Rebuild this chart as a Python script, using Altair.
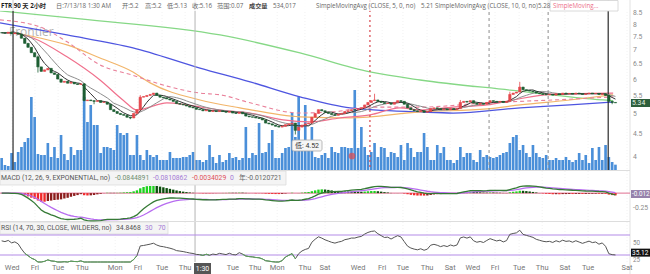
import altair as alt
import numpy as np
import pandas as pd

# ---------------- data ----------------
closes = [
    7.72, 7.70, 7.74, 7.68, 7.71, 7.66, 7.50, 7.30, 7.15, 6.95,
    6.80, 6.45, 6.30, 6.35, 6.40, 6.25, 6.20, 6.05, 5.95, 5.98,
    5.92, 5.95, 5.90, 5.88, 5.90, 5.40, 5.42, 5.40, 5.38, 5.40,
    5.35, 5.36, 5.30, 5.15, 5.10, 5.05, 5.02, 5.00, 4.95, 4.93,
    5.05, 5.15, 5.50, 5.52, 5.55, 5.58, 5.62, 5.55, 5.50, 5.48,
    5.45, 5.42, 5.38, 5.32, 5.30, 5.28, 5.25, 5.22, 5.20, 5.16,
    5.15, 5.12, 5.14, 5.10, 5.12, 5.10, 5.12, 5.10, 5.08, 5.10,
    5.06, 5.05, 5.08, 5.04, 4.98, 4.96, 4.95, 4.93, 4.92, 4.88,
    4.80, 4.78, 4.75, 4.72, 4.70, 4.72, 4.76, 4.78, 4.80, 4.62,
    4.70, 4.75, 4.78, 4.80, 4.95, 5.05, 5.15, 5.12, 5.08, 5.05,
    5.02, 5.00, 5.03, 5.05, 5.10, 5.12, 5.15, 5.15, 5.18, 5.20,
    5.28, 5.35, 5.40, 5.42, 5.38, 5.35, 5.32, 5.33, 5.30, 5.35,
    5.40, 5.38, 5.30, 5.20, 5.15, 5.12, 5.10, 5.12, 5.08, 5.10,
    5.18, 5.20, 5.18, 5.15, 5.17, 5.15, 5.18, 5.16, 5.18, 5.35,
    5.38, 5.36, 5.40, 5.33, 5.30, 5.32, 5.30, 5.35, 5.40, 5.38,
    5.36, 5.38, 5.35, 5.38, 5.58, 5.62, 5.65, 5.80, 5.72, 5.70,
    5.68, 5.66, 5.62, 5.60, 5.58, 5.57, 5.58, 5.56, 5.60, 5.58,
    5.62, 5.60, 5.61, 5.59, 5.62, 5.60, 5.58, 5.60, 5.62, 5.60,
    5.61, 5.58, 5.60, 5.55, 5.38, 5.35, 5.34,
]
volumes_k = [
    1200, 500, 400, 1700, 800, 1800, 2300, 2800, 3200, 7300,
    5300, 1600, 1500, 1500, 2700, 1300, 2300, 1200, 3500, 1600,
    1000, 2300, 1500, 2000, 2000, 7300, 4800, 6500, 4500, 4500,
    1700, 2300, 2300, 2200, 2000, 4500, 3700, 3500, 3700, 1500,
    1500, 3500, 1500, 1000, 2000, 1500, 1300, 1500, 1000, 1000,
    1000, 1800, 1200, 1200, 1200, 1300, 1300, 1500, 1800, 1000,
    1000, 800, 1000, 2500, 1300, 700, 1500, 800, 1000, 1700,
    1200, 1300, 1000, 1200, 4300, 1200, 1700, 1500, 4700, 1700,
    1800, 2700, 4000, 1200, 1200, 1700, 2200, 2300, 5700, 3300,
    7300, 2700, 6500, 2000, 4300, 1300, 1200, 1500, 1700, 1200,
    2300, 1800, 1700, 2300, 2300, 2200, 2200, 8000, 2200, 4300,
    2300, 1500, 1800, 2700, 1300, 2300, 2200, 1300, 1800, 1700,
    1300, 2500, 1000, 2700, 2200, 1300, 1800, 1800, 3700, 2300,
    1000, 1000, 2500, 1700, 2300, 1000, 1000, 700, 1000, 2300,
    1300, 1700, 1700, 1000, 800, 2000, 1300, 1500, 1300, 1200,
    1300, 1500, 1700, 1800, 2700, 3300, 3500, 2000, 2500, 1700,
    1300, 2500, 1700, 1300, 1200, 1500, 1000, 1000, 1200, 1000,
    1000, 1300, 1000, 800, 1000, 1700, 1000, 1500, 700, 2200,
    1000, 2300, 1000, 2500, 1300, 800, 534,
]
wick_high_idx = [11, 25, 42, 113, 139, 154, 157, 184]
wick_high_val = [6.85, 5.92, 5.56, 5.60, 5.42, 5.66, 5.96, 5.57]
wick_low_idx = [11, 28, 39, 89, 185]
wick_low_val = [6.26, 5.30, 4.90, 4.52, 5.30]

green_idx = [-0.5, 23.8, 66.2, 90.4, 111.6, 126.8, 154.1, 182.2, 185.3]
green_val = [8.66, 8.30, 7.63, 6.94, 6.28, 6.02, 5.71, 5.42, 5.40]
blue_idx = [-0.5, 19.8, 39.8, 60.1, 75.3, 90.4, 105.6, 126.8, 136.8, 157.1, 172.2, 185.3]
blue_val = [8.13, 7.63, 7.13, 6.41, 5.96, 5.51, 5.20, 5.09, 5.06, 5.20, 5.28, 5.36]
orange_idx = [4.1, 11.6, 19.8, 29.8, 39.8, 45.0, 60.1, 72.2, 90.4, 105.6, 126.8, 147.1, 157.1, 172.2, 185.3]
orange_val = [7.71, 7.51, 7.24, 6.76, 6.28, 5.93, 5.42, 5.20, 4.96, 4.93, 5.09, 5.17, 5.28, 5.42, 5.57]
dashed_idx = [-0.5, 11.6, 19.8, 29.8, 39.8, 50.1, 60.1, 66.2, 75.3, 90.4, 100.4, 111.6, 126.8, 147.1, 167.1, 185.3]
dashed_val = [8.26, 7.96, 7.36, 6.52, 6.17, 5.83, 5.62, 5.57, 5.34, 5.06, 5.09, 5.22, 5.22, 5.34, 5.42, 5.51]
pink_idx = [3.5, 9.5, 19.8, 29.8, 37.0, 41.0, 50.1, 56.2, 66.2, 75.3, 85.3, 93.5, 102.5, 111.6, 120.7, 126.8, 136.8, 147.1, 155.0, 167.1, 185.3]
pink_val = [7.71, 7.51, 6.80, 6.02, 5.40, 5.14, 5.34, 5.28, 5.14, 5.06, 4.88, 4.83, 4.93, 5.01, 5.20, 5.14, 5.22, 5.28, 5.42, 5.59, 5.62]

xlabel_idx = [3.2, 10.1, 17.1, 24.4, 34.4, 41.3, 48.6, 55.6, 70.1, 76.8, 83.5, 91.9, 98.0,
              108.0, 115.3, 121.6, 128.9, 135.9, 142.8, 149.5, 156.8, 163.8, 170.7, 177.7, 189.5]
xlabel_text = ["Wed", "Fri", "Tue", "Thu", "Mon", "Fri", "Tue", "Thu", "Tue", "Thu", "Mon", "Thu", "Sat",
               "Wed", "Fri", "Tue", "Thu", "Sat", "Wed", "Fri", "Tue", "Thu", "Sat", "Tue", "Sat"]
price_ticks = [8.5, 8, 7.5, 7, 6.5, 6, 5.5, 5, 4.5, 4]
price_tick_text = ["8.5", "8", "7.5", "7", "6.5", "6", "5.5", "5", "4.5", "4"]
cursor_idx = [58.6]
black_event_idx = [3.45, 183.8]
red_event_idx = [111.6]
gray_event_idx = [147.7, 165.6]
rsi_levels = [30, 70]
rsi_tick = [50, 25]
macd_tick = [-0.25]
last_price = 5.34
last_macd = -0.012
last_rsi = 35.12

# ---------------- derived tables ----------------
n = len(closes)
idx = np.arange(n)
opens = [closes[0]] + closes[:-1]
highs = [max(o, c) for o, c in zip(opens, closes)]
lows = [min(o, c) for o, c in zip(opens, closes)]
for i, v in zip(wick_high_idx, wick_high_val):
    highs[i] = max(highs[i], v)
for i, v in zip(wick_low_idx, wick_low_val):
    lows[i] = min(lows[i], v)

df = pd.DataFrame({"i": idx, "open": opens, "close": closes, "high": highs, "low": lows,
                   "vol": volumes_k})
df["l"] = df.i - 0.36
df["r"] = df.i + 0.36
df["vl"] = df.i - 0.4
df["vr"] = df.i + 0.4
df["zero"] = 0.0
df["col"] = np.where(df.close > df.open, "#e5484d", "#1d5e33")
s = df.close
df["sma5"] = s.rolling(5, min_periods=1).mean()
df["sma10"] = s.rolling(10, min_periods=1).mean()
ema12 = s.ewm(span=12, adjust=False).mean()
ema26 = s.ewm(span=26, adjust=False).mean()
df["macd"] = ema12 - ema26
df["sig"] = df.macd.ewm(span=9, adjust=False).mean()
df["diff"] = df.macd - df.sig
prev = df["diff"].shift(1).fillna(0)
df["hcol"] = np.where(df["diff"] >= 0,
                      np.where(df["diff"] >= prev, "#1fd11f", "#0d4f0d"),
                      np.where(df["diff"] <= prev, "#f02828", "#8c1c1c"))
# Wilder RSI(14)
ag, al = 0.035, 0.025
rsi = []
for d in s.diff().fillna(0):
    ag = (ag * 13 + max(d, 0)) / 14
    al = (al * 13 + max(-d, 0)) / 14
    rsi.append(100 - 100 / (1 + ag / al))
df["rsi"] = rsi
low_mask = (df.rsi < 30) | (df.rsi.shift(-1) < 30)
df["rsi_low"] = np.where(low_mask, df.rsi, np.nan)

# ---------------- scales ----------------
X = alt.Scale(domain=[-0.5, 189.8], range=[0, 628])
YP = alt.Scale(type="log", domain=[3.75, 9.17], range=[170, 0])
YV = alt.Scale(domain=[0, 17000], range=[170, 0])
YM = alt.Scale(domain=[-0.47, 0.12], range=[221, 186], clamp=True)
YR = alt.Scale(domain=[16, 82], range=[262, 229], clamp=True)

ONE = pd.DataFrame({"a": [0]})
FONT = "Roboto, Noto Sans CJK SC, sans-serif"
HFONT = "Open Sans, Noto Sans CJK SC, sans-serif"


def xq(f):
    return alt.X(f, type="quantitative", scale=X, axis=None)


def label(txt, x, y, color="#555", size=7.0, align="left", weight="normal", font=FONT):
    return alt.Chart(ONE).mark_text(text=txt, align=align, baseline="middle", fontSize=size,
                                    font=font, color=color, fontWeight=weight).encode(
        x=alt.value(x), y=alt.value(y))


def box(x1, x2, y1, y2, fill, stroke=None, opacity=1.0, radius=0):
    kw = dict(fill=fill, opacity=opacity, cornerRadius=radius)
    if stroke:
        kw.update(stroke=stroke, strokeWidth=0.8)
    return alt.Chart(ONE).mark_rect(**kw).encode(
        x=alt.value(x1), x2=alt.value(x2), y=alt.value(y1), y2=alt.value(y2))


def ma_line(ix, vals, color, width=1.2, dash=None):
    d = pd.DataFrame({"i": ix, "v": vals})
    kw = dict(color=color, strokeWidth=width, interpolate="monotone")
    if dash:
        kw["strokeDash"] = dash
    return alt.Chart(d).mark_line(**kw).encode(x=xq("i"), y=alt.Y("v:Q", scale=YP, axis=None))


def vlines(ix, color, y1, y2, width=1.0, dash=None):
    d = pd.DataFrame({"i": ix})
    kw = dict(color=color, strokeWidth=width)
    if dash:
        kw["strokeDash"] = dash
    return alt.Chart(d).mark_rule(**kw).encode(x=xq("i"), y=alt.value(y1), y2=alt.value(y2))


def value_tag(v, text, scale, fill, tcolor, size=6.5):
    d = pd.DataFrame({"v": [v], "t": [text]})
    r = alt.Chart(d).mark_rect(fill=fill, yOffset=-3.8, y2Offset=4.2).encode(
        x=alt.value(631), x2=alt.value(650), y=alt.Y("v:Q", scale=scale, axis=None), y2="v:Q")
    t = alt.Chart(d).mark_text(align="left", baseline="middle", fontSize=size, font=FONT,
                               color=tcolor, dy=0.3).encode(
        x=alt.value(632), y=alt.Y("v:Q", scale=scale, axis=None), text="t:N")
    return [r, t]


layers = []
# panel backgrounds / separators
layers.append(box(0, 650, 0, 274, "#ffffff"))
layers.append(vlines(xlabel_idx, "#efefef", 0, 262, 0.8, [1, 2]))
layers.append(alt.Chart(ONE).mark_rule(color="#e2e2e2").encode(x=alt.value(630), y=alt.value(0), y2=alt.value(274)))

# volume
layers.append(alt.Chart(df).mark_rect(color="#4a8fd9").encode(
    x=xq("vl"), x2="vr:Q", y=alt.Y("vol:Q", scale=YV, axis=None), y2="zero:Q"))

layers.append(label("Frontier", 9, 32, color="#b3b3b3", size=12, font=HFONT))

# moving averages
layers.append(ma_line(green_idx, green_val, "#86d886", 1.3))
layers.append(ma_line(blue_idx, blue_val, "#4e55e0", 1.3))
layers.append(ma_line(orange_idx, orange_val, "#f2b56a", 1.2))
layers.append(ma_line(dashed_idx, dashed_val, "#e9809a", 1.1, [4, 3]))
layers.append(ma_line(pink_idx, pink_val, "#f0708c", 1.2))

# event lines
layers.append(vlines(cursor_idx, "#b5b5b5", 0, 262, 1.0))
layers.append(vlines(black_event_idx, "#2a2a2a", 0, 170, 1.2))
layers.append(vlines(red_event_idx, "#d9434b", 0, 170, 1.2, [2, 3]))
layers.append(vlines(gray_event_idx, "#8c8c8c", 0, 170, 1.0, [3, 3]))

# short SMAs
layers.append(alt.Chart(df).mark_line(color="#8d8d8d", strokeWidth=1).encode(
    x=xq("i"), y=alt.Y("sma10:Q", scale=YP, axis=None)))
layers.append(alt.Chart(df).mark_line(color="#333333", strokeWidth=1).encode(
    x=xq("i"), y=alt.Y("sma5:Q", scale=YP, axis=None)))

# candles
layers.append(alt.Chart(df).mark_rule(strokeWidth=0.8).encode(
    x=xq("i"), y=alt.Y("low:Q", scale=YP, axis=None), y2="high:Q",
    color=alt.Color("col:N", scale=None)))
layers.append(alt.Chart(df).mark_rect(strokeWidth=0.6).encode(
    x=xq("l"), x2="r:Q", y=alt.Y("open:Q", scale=YP, axis=None), y2="close:Q",
    color=alt.Color("col:N", scale=None), stroke=alt.Stroke("col:N", scale=None)))

# low marker
layers.append(box(292, 322, 140, 151, "#f6f6f6", "#a8a8a8", 1.0, 2))
layers.append(label("低: 4.52", 307, 145.5, color="#333", size=7.0, align="center"))
layers.append(alt.Chart(ONE).mark_point(filled=True, color="#e0474c", size=45, shape="circle").encode(
    x=alt.value(352), y=alt.value(156)))

# top header
layers.append(box(0, 628, 0, 11, "#ffffff", None, 0.8))
hdr = [
    ("FTR 90 天 2小时", 1, "#222", "bold"),
    ("日:7/13/18 1:30 AM", 56, "#666", "normal"),
    ("开:5.2", 122, "#666", "normal"),
    ("高:5.2", 145, "#666", "normal"),
    ("低:5.13", 167, "#666", "normal"),
    ("收:5.16", 192, "#666", "normal"),
    ("范围:0.07", 217, "#666", "normal"),
    ("成交量", 249, "#444", "bold"),
    ("534,017", 273, "#666", "normal"),
    ("SimpleMovingAvg (CLOSE, 5, 0, no)", 316, "#666", "normal"),
    ("5.21", 421, "#666", "normal"),
    ("SimpleMovingAvg (CLOSE, 10, 0, no)", 435, "#666", "normal"),
    ("5.28", 538, "#666", "normal"),
    ("SimpleMoving...", 553, "#ec6d88", "normal"),
]
layers.append(box(550, 618, 0.5, 11, "#ffffff", "#d0d0d0"))
for t, x, c, w in hdr:
    layers.append(label(t, x, 6, color=c, size=6.2, weight=w, font=HFONT))

# price axis labels
pt = pd.DataFrame({"p": price_ticks, "t": price_tick_text})
layers.append(alt.Chart(pt).mark_text(align="left", baseline="middle", fontSize=6.8, font=FONT,
                                      color="#8a8a8a", dy=-1).encode(
    x=alt.value(633), y=alt.Y("p:Q", scale=YP, axis=None), text="t:N"))
layers += value_tag(last_price, f"{last_price:.2f}", YP, "#2d5e3c", "#e8f5e8", 6.8)

# separators between panels
layers.append(alt.Chart(ONE).mark_rule(color="#dddddd").encode(x=alt.value(0), x2=alt.value(630), y=alt.value(170.5)))
layers.append(alt.Chart(ONE).mark_rule(color="#dddddd").encode(x=alt.value(0), x2=alt.value(630), y=alt.value(221.5)))

# MACD panel
layers.append(box(0, 286, 171, 185, "#f4f4f4", "#dcdcdc"))
macd_hdr = [
    ("MACD (12, 26, 9, EXPONENTIAL, no)", 1, "#555"),
    ("-0.0844891", 115, "#6f8f6f"),
    ("-0.0810862", 153, "#a57bd6"),
    ("-0.0034029", 192, "#e0505a"),
    ("0", 230, "#a57bd6"),
    ("年:-0.0120721", 239, "#666"),
]
for t, x, c in macd_hdr:
    layers.append(label(t, x, 178, color=c, size=6.8))
zl = pd.DataFrame({"z": [0.0]})
layers.append(alt.Chart(zl).mark_rule(color="#e07090", strokeWidth=1).encode(
    x=alt.value(0), x2=alt.value(630), y=alt.Y("z:Q", scale=YM, axis=None)))
layers.append(alt.Chart(df).mark_rect().encode(
    x=xq("l"), x2="r:Q", y=alt.Y("diff:Q", scale=YM, axis=None), y2="zero:Q",
    color=alt.Color("hcol:N", scale=None)))
layers.append(alt.Chart(df).mark_line(color="#b76cf0", strokeWidth=1.3).encode(
    x=xq("i"), y=alt.Y("sig:Q", scale=YM, axis=None)))
layers.append(alt.Chart(df).mark_line(color="#357a35", strokeWidth=1.3).encode(
    x=xq("i"), y=alt.Y("macd:Q", scale=YM, axis=None)))
mt = pd.DataFrame({"v": macd_tick, "t": ["-0.25"]})
layers.append(alt.Chart(mt).mark_text(align="left", baseline="middle", fontSize=6.8, font=FONT,
                                      color="#8a8a8a").encode(
    x=alt.value(633), y=alt.Y("v:Q", scale=YM, axis=None), text="t:N"))
layers += value_tag(last_macd, "-0.012", YM, "#9682ab", "#ffffff", 6.3)

# RSI panel
layers.append(box(0, 168, 222, 234, "#f4f4f4", "#dcdcdc"))
for t, x, c in [("RSI (14, 70, 30, CLOSE, WILDERS, no)", 1, "#555"), ("34.8468", 116, "#555"),
                ("30", 145, "#a57bd6"), ("70", 158, "#a57bd6")]:
    layers.append(label(t, x, 228, color=c, size=6.8))
rl = pd.DataFrame({"v": rsi_levels})
layers.append(alt.Chart(rl).mark_rule(color="#b48be8", strokeWidth=1.2).encode(
    x=alt.value(0), x2=alt.value(630), y=alt.Y("v:Q", scale=YR, axis=None)))
layers.append(alt.Chart(df).mark_line(color="#555555", strokeWidth=1).encode(
    x=xq("i"), y=alt.Y("rsi:Q", scale=YR, axis=None)))
layers.append(alt.Chart(df).mark_line(color="#5aa55a", strokeWidth=1).encode(
    x=xq("i"), y=alt.Y("rsi_low:Q", scale=YR, axis=None)))
rt = pd.DataFrame({"v": rsi_tick, "t": ["50", "25"], "d": [-2.0, 2.0]})
for k in range(2):
    layers.append(alt.Chart(rt.iloc[[k]]).mark_text(align="left", baseline="middle", fontSize=6.3,
                                                    font=FONT, color="#8a8a8a", dy=float(rt.d[k])).encode(
        x=alt.value(633), y=alt.Y("v:Q", scale=YR, axis=None), text="t:N"))
layers += value_tag(last_rsi, f"{last_rsi:.2f}", YR, "#111111", "#ffffff", 6.5)

# x labels
xl = pd.DataFrame({"i": xlabel_idx, "t": xlabel_text})
layers.append(alt.Chart(xl).mark_text(align="center", baseline="middle", fontSize=7.5, font=FONT,
                                      color="#777").encode(x=xq("i"), y=alt.value(268), text="t:N"))
layers.append(box(194, 211, 263, 274, "#555555"))
layers.append(label("1:30", 202.5, 268.5, color="#ffffff", size=7.0, align="center"))

chart = alt.layer(*layers).properties(
    width=650, height=274, padding=0,
    autosize=alt.AutoSizeParams(type="none"),
).resolve_scale(y="independent", color="independent", stroke="independent").configure_view(stroke=None)

chart.save("out.html", embed_options={"renderer": "svg", "actions": False})
